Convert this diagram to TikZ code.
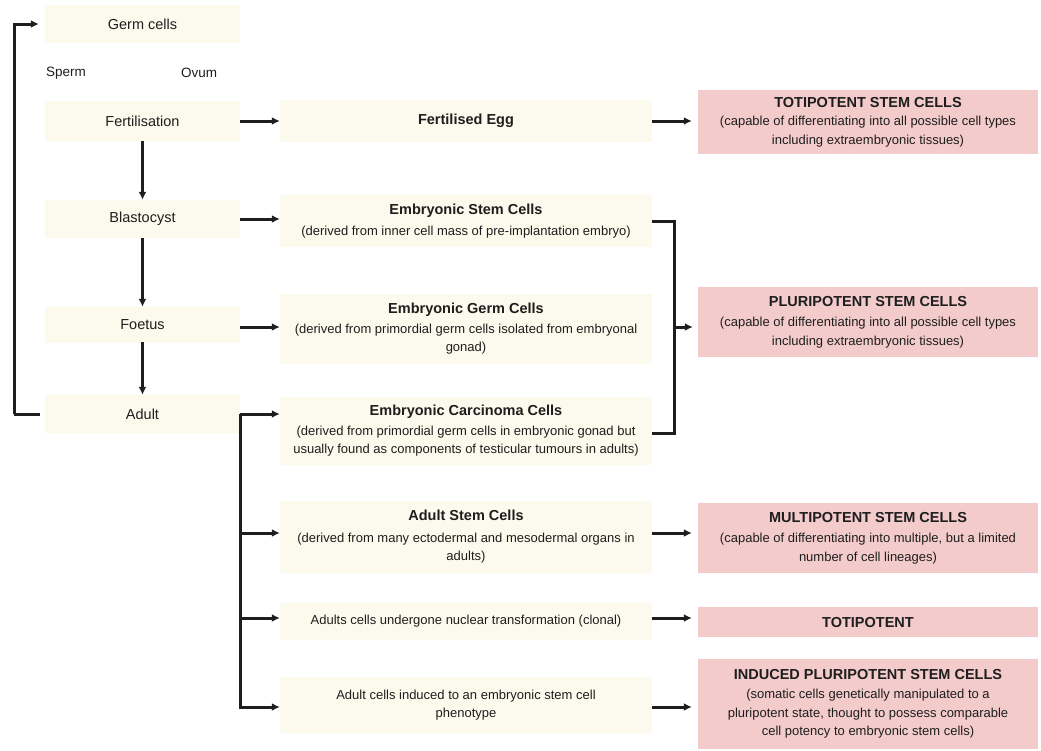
\documentclass[tikz,border=0pt]{standalone}
\usepackage{fontspec}
\setmainfont{Liberation Sans}
\usetikzlibrary{arrows.meta}
\definecolor{cream}{HTML}{FBFAEC}
\definecolor{pinkbox}{HTML}{F4CBCB}
\definecolor{ink}{HTML}{1E1E1E}
\newcommand{\ttl}[1]{{\fontsize{14.5}{18.5}\selectfont\bfseries #1}}
\begin{document}
\begin{tikzpicture}[x=1pt,y=-1pt,
  every node/.style={text=ink, inner sep=0pt},
  lbox/.style={fill=cream, minimum width=195pt, font=\fontsize{14.5}{17}\selectfont},
  mbox/.style={fill=cream, minimum width=372pt, align=center, font=\fontsize{13}{18.5}\selectfont},
  rbox/.style={fill=pinkbox, minimum width=340pt, align=center, font=\fontsize{13}{18.5}\selectfont},
  plain/.style={font=\fontsize{13.5}{16}\selectfont},
  arr/.style={draw=ink, line width=3pt, -{Latex[length=8pt,width=8pt]}},
  ln/.style={draw=ink, line width=3pt}]
\useasboundingbox (0,0) rectangle (1041,750);

% left column
\node[lbox, minimum height=38pt] (germ)   at (142.5,24)  {Germ cells};
\node[plain] (sperm) at (66,73) {Sperm};
\node[plain] (ovum)  at (199,73) {Ovum};
\node[lbox, minimum height=40pt] (fert)   at (142.5,121) {Fertilisation};
\node[lbox, minimum height=38pt] (blast)  at (142.5,219) {Blastocyst};
\node[lbox, minimum height=36pt] (foetus) at (142.5,325) {Foetus};
\node[lbox, minimum height=38pt] (adult)  at (142.5,414) {Adult};

% middle column
\node[mbox, minimum height=42pt] (egg) at (466,121) {\ttl{Fertilised Egg}};
\node[mbox, minimum height=52pt] (esc) at (466,221)
  {\ttl{Embryonic Stem Cells}\\[2pt](derived from inner cell mass of pre-implantation embryo)};
\node[mbox, minimum height=70pt] (egc) at (466,329)
  {\ttl{Embryonic Germ Cells}\\[1pt](derived from primordial germ cells isolated from embryonal\\gonad)};
\node[mbox, minimum height=68pt] (ecc) at (466,431)
  {\ttl{Embryonic Carcinoma Cells}\\[1pt](derived from primordial germ cells in embryonic gonad but\\usually found as components of testicular tumours in adults)};
\node[mbox, minimum height=72pt] (asc) at (466,537)
  {\ttl{Adult Stem Cells}\\[3pt](derived from many ectodermal and mesodermal organs in\\adults)};
\node[mbox, minimum height=37pt] (nuc) at (466,621)
  {Adults cells undergone nuclear transformation (clonal)};
\node[mbox, minimum height=56pt] (ind) at (466,705)
  {Adult cells induced to an embryonic stem cell\\phenotype};

% right column
\node[rbox, minimum height=64pt] (toti) at (868,122)
  {\ttl{TOTIPOTENT STEM CELLS}\\(capable of differentiating into all possible cell types\\including extraembryonic tissues)};
\node[rbox, minimum height=70pt] (pluri) at (868,322)
  {\ttl{PLURIPOTENT STEM CELLS}\\[2pt](capable of differentiating into all possible cell types\\including extraembryonic tissues)};
\node[rbox, minimum height=70pt] (multi) at (868,538)
  {\ttl{MULTIPOTENT STEM CELLS}\\[2pt](capable of differentiating into multiple, but a limited\\number of cell lineages)};
\node[rbox, minimum height=30pt] (toti2) at (868,622) {\ttl{TOTIPOTENT}};
\node[rbox, minimum height=90pt] (ipsc) at (868,704)
  {\ttl{INDUCED PLURIPOTENT STEM CELLS}\\[1pt](somatic cells genetically manipulated to a\\pluripotent state, thought to possess comparable\\cell potency to embryonic stem cells)};

% vertical flow
\draw[arr] (fert.south) -- (blast.north);
\draw[arr] (blast.south) -- (foetus.north);
\draw[arr] ([yshift=1pt]foetus.south) -- (adult.north);

% loop back to germ cells
\coordinate (lp) at (14,414);
\draw[ln] ([xshift=-5pt]adult.west) -- (lp);
\draw[arr, shorten >=6pt] (lp) |- (germ.west);

% left to middle
\draw[arr] (fert.east) -- (egg.west);
\draw[arr] (blast.east) -- (blast.east -| esc.west);
\draw[arr] ([yshift=-2pt]foetus.east) -- ([yshift=-2pt]foetus.east -| egc.west);

% adult bracket
\coordinate (aj) at (adult.east);
\draw[arr] (aj) -- (aj -| ecc.west);
\draw[arr] (aj) |- ([yshift=4pt]asc.west);
\draw[arr] (aj) |- ([yshift=3pt]nuc.west);
\draw[arr] (aj) |- ([yshift=-2pt]ind.west);

% pluripotent bracket
\coordinate (bj) at (674,327);
\draw[ln] (esc.east) -- (esc.east -| bj) -- ([yshift=-2pt]ecc.east -| bj) -- ([yshift=-2pt]ecc.east);
\draw[arr, shorten >=5pt] (bj) -- (bj -| pluri.west);

% middle to right
\draw[arr, shorten >=6pt] (egg.east) -- (egg.east -| toti.west);
\draw[arr, shorten >=6pt] ([yshift=4pt]asc.east) -- ([yshift=4pt]asc.east -| multi.west);
\draw[arr, shorten >=6pt] ([yshift=3pt]nuc.east) -- ([yshift=3pt]nuc.east -| toti2.west);
\draw[arr, shorten >=6pt] ([yshift=-2pt]ind.east) -- ([yshift=-2pt]ind.east -| ipsc.west);
\end{tikzpicture}
\end{document}
